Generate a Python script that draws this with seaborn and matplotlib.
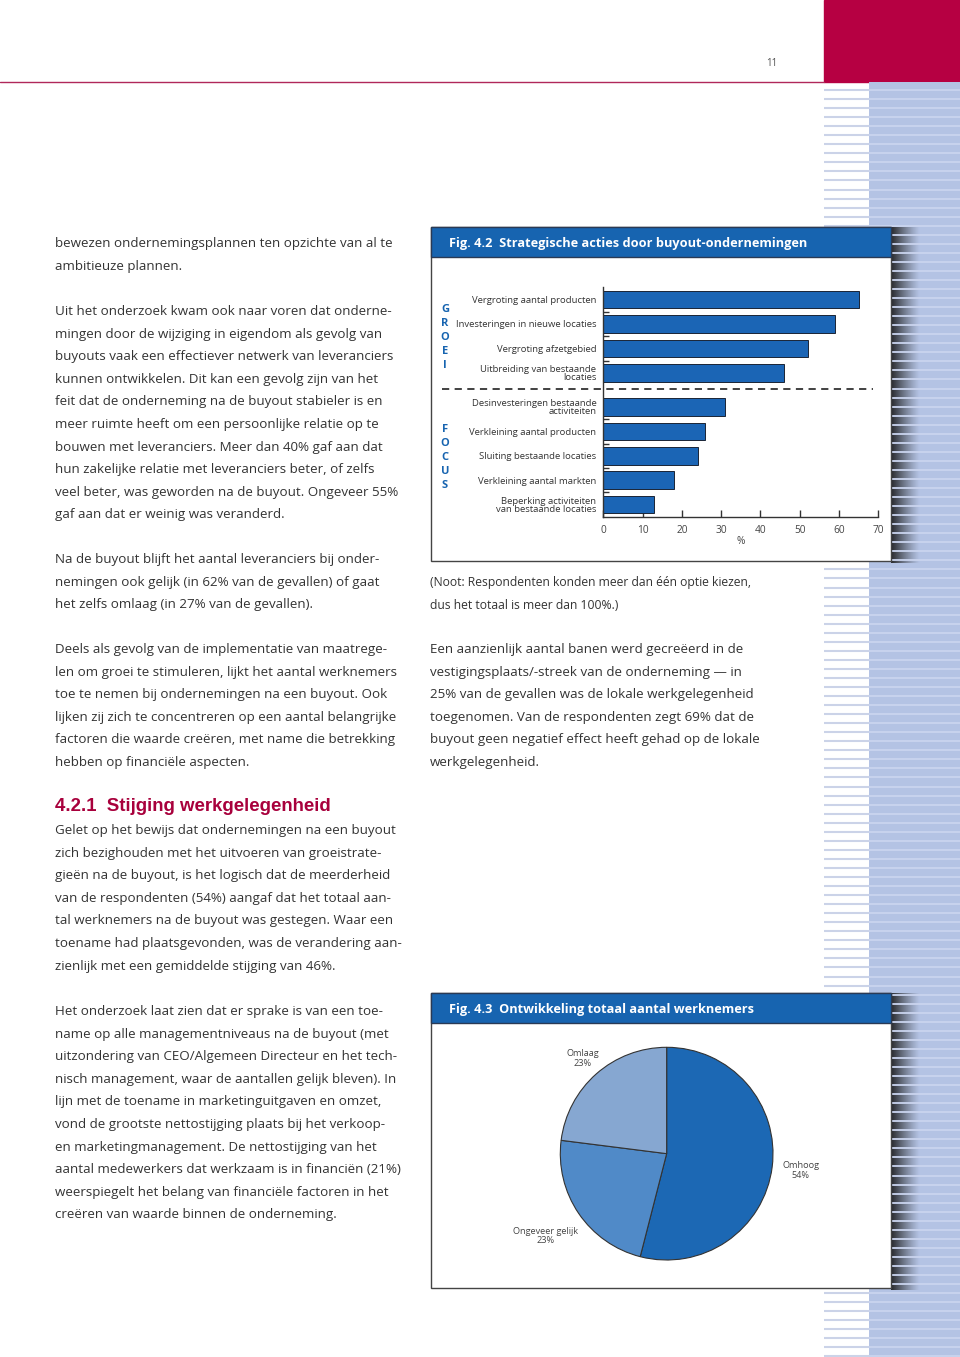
import numpy as np
import matplotlib
matplotlib.use("Agg")
import matplotlib.pyplot as plt
from matplotlib.patches import Rectangle
import seaborn as sns

# --- data: Fig. 4.2 ---
actions = ["Vergroting aantal producten", "Investeringen in nieuwe locaties",
           "Vergroting afzetgebied", "Uitbreiding van bestaande\nlocaties",
           "Desinvesteringen bestaande\nactiviteiten", "Verkleining aantal producten",
           "Sluiting bestaande locaties", "Verkleining aantal markten",
           "Beperking activiteiten\nvan bestaande locaties"]
action_pct = [65, 59, 52, 46, 31, 26, 24, 18, 13]
action_pos = [0, 1, 2, 3, 4.4, 5.4, 6.4, 7.4, 8.4]   # gap between GROEI and FOCUS
x_ticks = [0, 10, 20, 30, 40, 50, 60, 70]

# --- data: Fig. 4.3 ---
pie_labels = ["Omhoog", "Ongeveer gelijk", "Omlaag"]
pie_pct = [54, 23, 23]
pie_colors = ["#1c68b4", "#508ac8", "#86a7d1"]
pie_label_dist = [1.27, 1.38, 1.19]

# --- page text ---
left_blocks = [
    (243.5, ["bewezen ondernemingsplannen ten opzichte van al te",
             "ambitieuze plannen."]),
    (311.5, ["Uit het onderzoek kwam ook naar voren dat onderne-",
             "mingen door de wijziging in eigendom als gevolg van",
             "buyouts vaak een effectiever netwerk van leveranciers",
             "kunnen ontwikkelen. Dit kan een gevolg zijn van het",
             "feit dat de onderneming na de buyout stabieler is en",
             "meer ruimte heeft om een persoonlijke relatie op te",
             "bouwen met leveranciers. Meer dan 40% gaf aan dat",
             "hun zakelijke relatie met leveranciers beter, of zelfs",
             "veel beter, was geworden na de buyout. Ongeveer 55%",
             "gaf aan dat er weinig was veranderd."]),
    (559.5, ["Na de buyout blijft het aantal leveranciers bij onder-",
             "nemingen ook gelijk (in 62% van de gevallen) of gaat",
             "het zelfs omlaag (in 27% van de gevallen)."]),
    (649.5, ["Deels als gevolg van de implementatie van maatrege-",
             "len om groei te stimuleren, lijkt het aantal werknemers",
             "toe te nemen bij ondernemingen na een buyout. Ook",
             "lijken zij zich te concentreren op een aantal belangrijke",
             "factoren die waarde creëren, met name die betrekking",
             "hebben op financiële aspecten."]),
    (830.5, ["Gelet op het bewijs dat ondernemingen na een buyout",
             "zich bezighouden met het uitvoeren van groeistrate-",
             "gieën na de buyout, is het logisch dat de meerderheid",
             "van de respondenten (54%) aangaf dat het totaal aan-",
             "tal werknemers na de buyout was gestegen. Waar een",
             "toename had plaatsgevonden, was de verandering aan-",
             "zienlijk met een gemiddelde stijging van 46%."]),
    (1011.5, ["Het onderzoek laat zien dat er sprake is van een toe-",
              "name op alle managementniveaus na de buyout (met",
              "uitzondering van CEO/Algemeen Directeur en het tech-",
              "nisch management, waar de aantallen gelijk bleven). In",
              "lijn met de toename in marketinguitgaven en omzet,",
              "vond de grootste nettostijging plaats bij het verkoop-",
              "en marketingmanagement. De nettostijging van het",
              "aantal medewerkers dat werkzaam is in financiën (21%)",
              "weerspiegelt het belang van financiële factoren in het",
              "creëren van waarde binnen de onderneming."]),
]
right_blocks = [
    (649.5, ["Een aanzienlijk aantal banen werd gecreëerd in de",
             "vestigingsplaats/-streek van de onderneming — in",
             "25% van de gevallen was de lokale werkgelegenheid",
             "toegenomen. Van de respondenten zegt 69% dat de",
             "buyout geen negatief effect heeft gehad op de lokale",
             "werkgelegenheid."]),
]
note_lines = ["(Noot: Respondenten konden meer dan één optie kiezen,",
              "dus het totaal is meer dan 100%.)"]

sns.set_theme(style="white")
plt.rcParams['font.family'] = ['Open Sans', 'DejaVu Sans']

W, H = 960, 1357
TXT = "#333333"
BLUE = "#1764b0"
RED = "#b60042"
LINE = 22.6
BODY = 9.6

fig = plt.figure(figsize=(W / 100, H / 100), dpi=100)
fig.patch.set_facecolor("white")

page = fig.add_axes([0, 0, 1, 1])
page.set_xlim(0, W)
page.set_ylim(H, 0)
page.axis("off")


def px_axes(x0, y0, x1, y1):
    return fig.add_axes([x0 / W, 1 - y1 / H, (x1 - x0) / W, (y1 - y0) / H])


# page decoration: red block, rule, page number
page.add_patch(Rectangle((824, 0), 136, 82, color=RED, zorder=1))
page.plot([0, 824], [81.5, 81.5], color="#b0285a", lw=1, zorder=1)
page.text(772, 63, "11", fontsize=7, color="#555555", ha="center", va="center")

# striped margin
page.add_patch(Rectangle((869, 82), 91, H - 82, color="#b4c3e4", lw=0, zorder=1))

boxes = [(227, 561, "Fig. 4.2  Strategische acties door buyout-ondernemingen"),
         (993, 1288, "Fig. 4.3  Ontwikkeling totaal aantal werknemers")]

grad = np.zeros((1, 64, 4))
grad[..., :3] = 0.12
grad[..., 3] = np.linspace(0.95, 0.0, 64) ** 1.2
for top, bottom, title in boxes:
    page.imshow(grad, extent=(891, 920, bottom + 2, top), aspect="auto",
                interpolation="bilinear", zorder=1.5)

for y in np.arange(90, H, 9.046):
    page.plot([824, 869], [y, y], color="#cbd3e8", lw=1.5, zorder=2,
              solid_capstyle="butt")
    page.plot([869, 960], [y, y], color="#cad4ee", lw=1.3, zorder=2,
              solid_capstyle="butt")

for top, bottom, title in boxes:
    page.add_patch(Rectangle((431, top), 460, bottom - top, facecolor="white",
                             edgecolor="#444444", lw=1, zorder=3))
    page.add_patch(Rectangle((431, top), 460, 30, facecolor=BLUE,
                             edgecolor="#2a3a55", lw=1, zorder=3.1))
    page.text(449, top + 17, title, color="white", fontsize=9.2, weight="bold",
              ha="left", va="center", zorder=4)

page.set_xlim(0, W)
page.set_ylim(H, 0)

# body text
for x0, blocks in [(55, left_blocks), (430, right_blocks)]:
    for y0, lines in blocks:
        for i, s in enumerate(lines):
            page.text(x0, y0 + i * LINE, s, fontsize=BODY, color=TXT,
                      ha="left", va="center", zorder=4)
for i, s in enumerate(note_lines):
    page.text(430, 582.5 + i * LINE, s, fontsize=8.7, color=TXT,
              ha="left", va="center", zorder=4)

page.text(55, 806.5, "4.2.1  Stijging werkgelegenheid", fontsize=13.4,
          weight="bold", color="#a8003c", family="Liberation Sans",
          ha="left", va="center", zorder=4)

# GROEI / FOCUS letters
for word, y0 in [("GROEI", 309), ("FOCUS", 429)]:
    for i, ch in enumerate(word):
        page.text(445, y0 + i * 14.25, ch, fontsize=8, color=BLUE,
                  weight="bold", ha="center", va="center", zorder=4)

# --- Fig. 4.2 bar chart ---
ax = px_axes(603.3, 287.3, 878.3, 517)
ax.patch.set_alpha(0)
sns.barplot(x=action_pct, y=action_pos, orient="y", native_scale=True,
            color="#1b65b5", saturation=1, edgecolor="#1a2435", linewidth=0.7,
            width=0.72, errorbar=None, ax=ax)
ax.set_xlim(0, 70)
ax.set_ylim(8.91, -0.5)
ax.set_xticks(x_ticks)
ax.set_xticklabels([str(t) for t in x_ticks], fontsize=7.3, color="#444444")
ax.set_yticks(action_pos)
ax.set_yticklabels(actions, fontsize=6.8, color="#333333")
for lbl in ax.get_yticklabels():
    lbl.set_linespacing(0.88)
ax.set_yticks([0.5, 1.5, 2.5, 4.9, 5.9, 6.9, 7.9], minor=True)
ax.tick_params(axis="x", direction="in", length=5, width=1, color="#333333",
               pad=6, bottom=True)
ax.tick_params(axis="y", which="major", length=0, pad=5)
ax.tick_params(axis="y", which="minor", direction="in", length=4, width=1,
               color="#333333", left=True)
ax.set_xlabel("%", fontsize=7.3, color="#444444", labelpad=0)
ax.set_ylabel("")
for side in ["top", "right"]:
    ax.spines[side].set_visible(False)
for side in ["left", "bottom"]:
    ax.spines[side].set_visible(True)
    ax.spines[side].set_color("#333333")
    ax.spines[side].set_linewidth(1)
ax.axhline(3.68, xmin=-0.588, xmax=0.98, color="#333333", lw=1.3,
           ls=(0, (4, 3)), clip_on=False)
ax.grid(False)

# --- Fig. 4.3 pie chart ---
pax = px_axes(560, 1047.3, 773.3, 1260)
wedges, _ = pax.pie(pie_pct, colors=pie_colors, startangle=90, counterclock=False,
                    wedgeprops=dict(edgecolor="#333333", linewidth=0.8))
pax.set_xlim(-1, 1)
pax.set_ylim(-1, 1)
pax.set_aspect("equal")
for w, lab, pct, d in zip(wedges, pie_labels, pie_pct, pie_label_dist):
    ang = np.deg2rad((w.theta1 + w.theta2) / 2)
    pax.text(d * np.cos(ang), d * np.sin(ang), f"{lab}\n{pct}%", fontsize=6.6,
             color="#444444", ha="center", va="center", linespacing=1.1)

fig.savefig("out.png", dpi=100)
